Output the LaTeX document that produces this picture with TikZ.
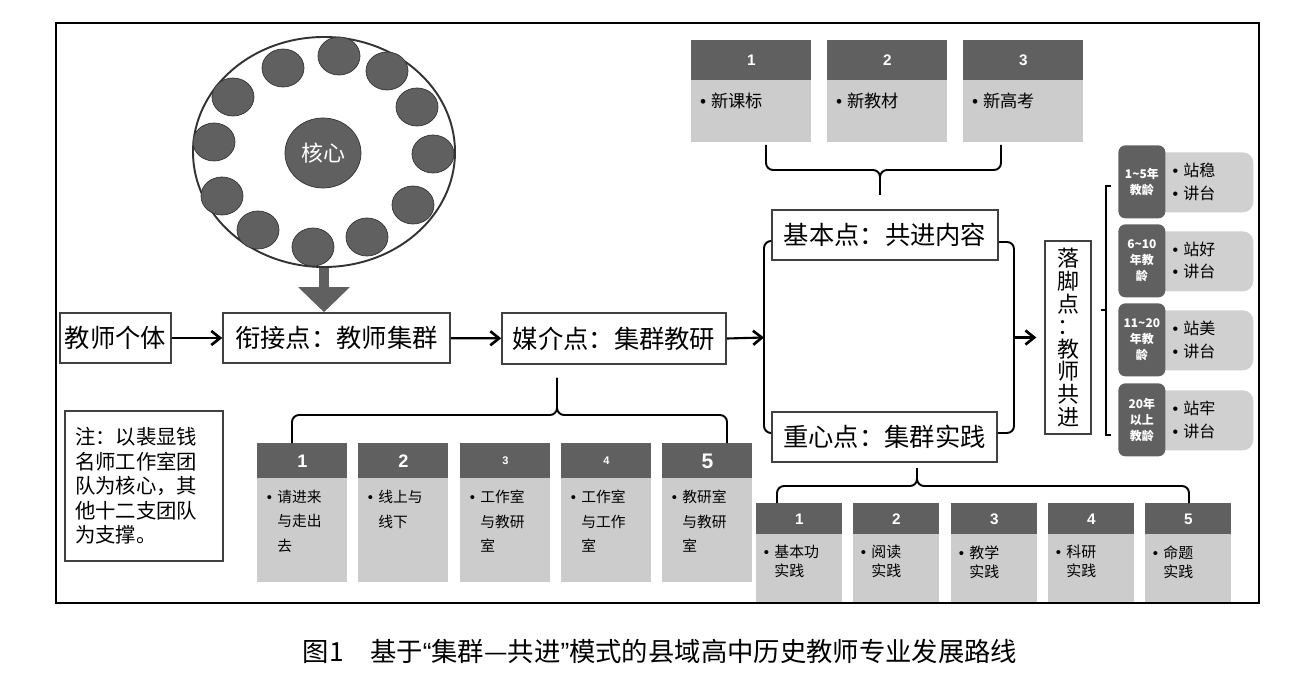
\documentclass[tikz,border=0pt]{standalone}
\usepackage{fontspec}
\newfontfamily\cjk{Noto Sans CJK SC}
\newfontfamily\numfont{Liberation Sans}
\usetikzlibrary{shapes.geometric,arrows.meta,positioning,calc}
\definecolor{headgray}{HTML}{606060}
\definecolor{bodygray}{HTML}{CCCCCC}
\definecolor{agegray}{HTML}{D0D0D0}
\def\px{0.02cm}
\tikzstyle{mainbox}=[draw=black!75, line width=0.9pt, inner sep=0pt, fill=white, font=\cjk\fontsize{14.4}{17}\selectfont]
\tikzstyle{member}=[ellipse, draw=black!80, fill=headgray, minimum width=42*\px, minimum height=38*\px, inner sep=0pt]
\tikzstyle{cardhead}=[fill=headgray, text=white, inner sep=0pt, anchor=north west]
\tikzstyle{cardbody}=[fill=bodygray, inner sep=0pt, anchor=north west]
\tikzstyle{cardtext}=[anchor=north west, inner sep=0pt, align=left]
\tikzstyle{arrow}=[line width=1.2pt, -{Straight Barb[length=5pt,width=8pt,line width=1.5pt]}]
\tikzstyle{brace}=[line width=1.1pt, rounded corners=4pt]
\newcommand{\dotmark}{\llap{{\numfont\textbullet}\hspace{3pt}}}

\begin{document}
\begin{tikzpicture}[x=\px, y=-\px]
\useasboundingbox (0,0) rectangle (1300,678);

% main chain
\node[mainbox, minimum width=111*\px, minimum height=50*\px] (geti) at (115.5,338) {教师个体};
\node[mainbox, minimum width=227*\px, minimum height=50*\px] (xianjie) at (336.5,338) {衔接点：教师集群};
\node[mainbox, minimum width=224*\px, minimum height=51*\px] (meijie) at (614,338.5) {媒介点：集群教研};
\node[mainbox, minimum width=226*\px, minimum height=50*\px] (jiben) at (885,235) {基本点：共进内容};
\node[mainbox, minimum width=225*\px, minimum height=50*\px] (zhongxin) at (884.5,437) {重心点：集群实践};
\node[mainbox, minimum width=46*\px, minimum height=193*\px, align=center,
  font=\cjk\fontsize{12.5}{12.9}\selectfont] (luojiao) at (1068,337.5) {落\\脚\\点\\：\\教\\师\\共\\进};
\node[mainbox, line width=0.7pt, minimum width=158*\px, minimum height=150*\px, text width=138*\px, align=left,
  font=\cjk\fontsize{11.6}{14}\selectfont] (note) at (144,486) {注：以裴显钱\\名师工作室团\\队为核心，其\\他十二支团队\\为支撑。};

% team ring
\node[ellipse, draw=black!80, line width=1.1pt, minimum width=262*\px, minimum height=230*\px] (ring) at (324,152) {};
\foreach \mx/\my [count=\i] in {283/68, 339/56, 387/71, 417/107, 433/154, 413/205,
  367/237, 313/247, 258/230, 222/196, 214/142, 233/97}
  \node[member] (m\i) at (\mx,\my) {};
\node[ellipse, draw=black!80, fill=headgray, minimum width=76*\px, minimum height=70*\px, inner sep=0pt,
  text=white, font=\cjk\fontsize{12.5}{14}\selectfont] (core) at (323,153) {核心};
\draw[headgray, line width=10*\px, -{Triangle[width=1cm,length=0.5cm]}] (ring.south) -- (ring.south |- xianjie.north);

% arrows
\draw[arrow] (geti) -- (xianjie);
\draw[arrow] (xianjie) -- (meijie);
\coordinate (lbr) at (764,337.5);
\coordinate (rbr) at (1014,337.5);
\draw[arrow] (meijie.east) -- (lbr);
\draw[brace] ($(jiben.west)+(0,6)$) -| (lbr) |- ($(zhongxin.west)+(0,-4)$);
\draw[brace] ($(jiben.east)+(0,7)$) -| (rbr) |- ($(zhongxin.east)+(0,-4)$);
\draw[arrow, shorten >=4.5pt] (rbr) -- (luojiao.west);

% top cards
\foreach \x/\n/\t in {691/1/新课标, 827/2/新教材, 963/3/新高考} {
  \node[cardhead, minimum width=120*\px, minimum height=40*\px,
    font=\numfont\bfseries\fontsize{8.7}{10}\selectfont] (top\n) at (\x,40) {\n};
  \node[cardbody, minimum width=120*\px, minimum height=62*\px] (topb\n) at (\x,80) {};
  \node[cardtext, font=\cjk\fontsize{9.8}{12}\selectfont] at ($(topb\n.north west)+(20,13)$) {\dotmark\t};
}
\coordinate (toptip) at (880,195);
\draw[brace] (766,145) |- (880,170) -- (toptip);
\draw[brace] (1001,145) |- (880,170) -- (toptip);

% bottom-left cards
\foreach \x/\n/\s/\t in {257/1/10.3/{请进来\\与走出\\去}, 358/2/10.3/{线上与\\线下},
  460/3/6.3/{工作室\\与教研\\室}, 561/4/6.3/{工作室\\与工作\\室}, 662/5/12/{教研室\\与教研\\室}} {
  \node[cardhead, minimum width=90*\px, minimum height=35*\px,
    font=\numfont\bfseries\fontsize{\s}{\s}\selectfont] (way\n) at (\x,443) {\n};
  \node[cardbody, minimum width=90*\px, minimum height=104*\px] (wayb\n) at (\x,478) {};
  \node[cardtext, font=\cjk\fontsize{8.4}{13.8}\selectfont] at ($(wayb\n.north west)+(20,12)$) {\dotmark\t};
}
\coordinate (waytip) at (557,378);
\draw[brace] (292,443) |- (557,415) -- (waytip);
\draw[brace] (727,443) |- (557,415) -- (waytip);

% bottom-right cards
\foreach \x/\n/\t in {756/1/基本功, 853/2/阅读, 951/3/教学, 1048/4/科研, 1145/5/命题} {
  \node[cardhead, minimum width=86*\px, minimum height=31*\px,
    font=\numfont\bfseries\fontsize{8.7}{10}\selectfont] (prac\n) at (\x,503) {\n};
  \node[cardbody, minimum width=86*\px, minimum height=69*\px] (pracb\n) at (\x,534) {};
  \node[cardtext, font=\cjk\fontsize{8.5}{10.8}\selectfont] at ($(pracb\n.north west)+(18,11)$) {\dotmark\t\\实践};
}
\coordinate (practip) at (917,468);
\draw[brace] (777,503) |- (917,486) -- (practip);
\draw[brace] (1189,503) |- (917,486) -- (practip);

% teaching-age groups
\foreach \y/\a/\b [count=\i] in {145/{1\textasciitilde5年\\教龄}/站稳, 224/{6\textasciitilde10\\年教\\龄}/站好,
  303/{11\textasciitilde20\\年教\\龄}/站美, 383/{20年\\以上\\教龄}/站牢} {
  \node[anchor=north west, fill=agegray, rounded corners=6pt, minimum width=98*\px, minimum height=60*\px,
    inner sep=0pt] (agebox\i) at (1155,\y+7) {};
  \node[anchor=north west, fill=headgray, rounded corners=4pt, minimum width=47*\px, minimum height=73*\px,
    inner sep=0pt, align=center, text=white, font=\cjk\bfseries\fontsize{6.8}{9}\selectfont] (age\i) at (1118,\y) {\a};
  \node[anchor=west, inner sep=0pt, align=left, font=\cjk\fontsize{9.1}{13}\selectfont] at (1183,\y+36.5)
    {\dotmark\b\\\dotmark 讲台};
}
\coordinate (agemid) at (1106,310);
\draw[line width=0.9pt] (1111,186) -- (1106,186) -- (1106,435) -- (1111,435);
\draw[line width=0.9pt] (1101,310) -- (agemid);

% frame and caption
\draw[line width=1.3pt] (56,23) rectangle (1259,603);
\node[font=\cjk\fontsize{15}{17}\selectfont] (caption) at (660,651)
  {图1\quad 基于{\numfont “}集群—共进{\numfont ”}模式的县域高中历史教师专业发展路线};
\end{tikzpicture}
\end{document}
